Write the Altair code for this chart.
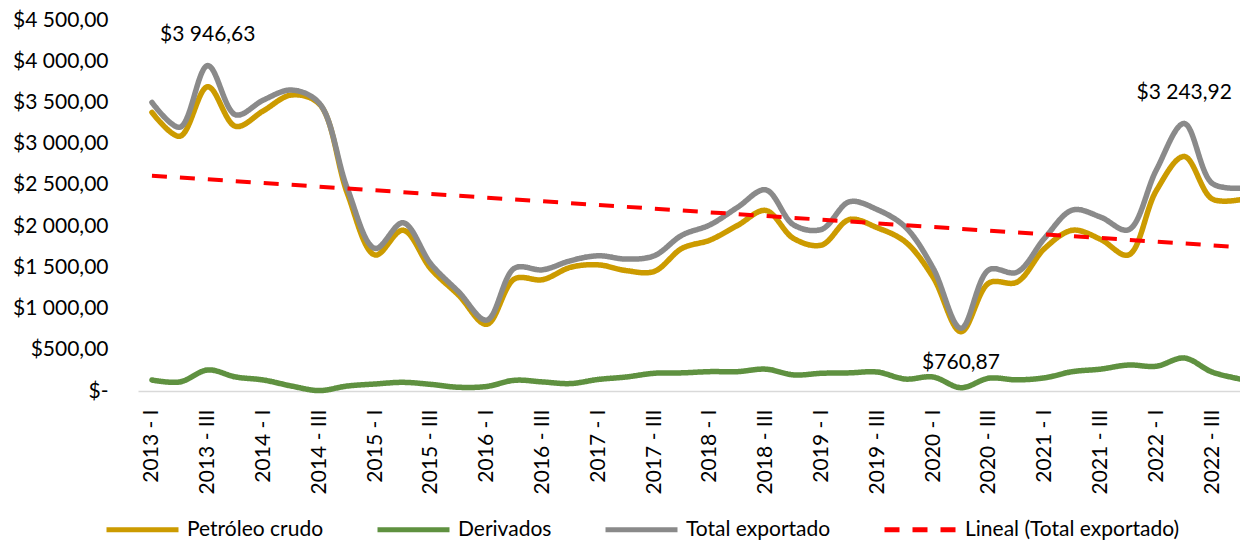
import altair as alt
import pandas as pd

quarters = [
    "2013 - I", "2013 - II", "2013 - III", "2013 - IV",
    "2014 - I", "2014 - II", "2014 - III", "2014 - IV",
    "2015 - I", "2015 - II", "2015 - III", "2015 - IV",
    "2016 - I", "2016 - II", "2016 - III", "2016 - IV",
    "2017 - I", "2017 - II", "2017 - III", "2017 - IV",
    "2018 - I", "2018 - II", "2018 - III", "2018 - IV",
    "2019 - I", "2019 - II", "2019 - III", "2019 - IV",
    "2020 - I", "2020 - II", "2020 - III", "2020 - IV",
    "2021 - I", "2021 - II", "2021 - III", "2021 - IV",
    "2022 - I", "2022 - II", "2022 - III", "2022 - IV",
]

petroleo = [3380, 3090, 3690, 3210, 3400, 3590, 3480, 2400, 1650, 1950,
            1480, 1160, 810, 1360, 1350, 1500, 1530, 1460, 1450, 1730,
            1830, 2010, 2190, 1850, 1770, 2080, 1980, 1810, 1380, 720,
            1310, 1320, 1730, 1950, 1840, 1650, 2430, 2844, 2330, 2320]

derivados = [133, 110, 255, 170, 133, 60, 5, 60, 85, 105,
             80, 45, 55, 130, 110, 90, 140, 170, 215, 220,
             235, 235, 265, 195, 215, 220, 230, 145, 170, 40,
             155, 135, 160, 235, 265, 315, 300, 400, 230, 145]

total = [3500, 3200, 3946.63, 3350, 3530, 3650, 3490, 2460, 1730, 2040,
         1540, 1200, 860, 1490, 1470, 1580, 1640, 1600, 1640, 1890,
         2015, 2230, 2440, 2015, 1960, 2295, 2200, 1990, 1490, 760.87,
         1470, 1440, 1855, 2195, 2110, 1955, 2680, 3243.92, 2520, 2460]

label_idx = [2, 37, 29]
label_text = ["$3 946,63", "$3 243,92", "$760,87"]

series_names = ["Petróleo crudo", "Derivados", "Total exportado", "Lineal (Total exportado)"]
series_colors = ["#CC9B00", "#5F9140", "#8A8A8A", "#FF0000"]
series_dash = [[1, 0], [1, 0], [1, 0], [15, 13]]

rows = []
for name, vals in zip(series_names[:3], [petroleo, derivados, total]):
    for i, v in enumerate(vals):
        rows.append({"idx": i, "serie": name, "valor": v})
df = pd.DataFrame(rows)

lab_df = pd.DataFrame({
    "idx": label_idx,
    "valor": [total[i] for i in label_idx],
    "texto": label_text,
})

quarter_js = "[" + ",".join("'" + q + "'" for q in quarters) + "]"

x_enc = alt.X(
    "idx:Q",
    scale=alt.Scale(domain=[-0.5, 39.0], nice=False, zero=False),
    axis=alt.Axis(
        values=list(range(0, 40, 2)),
        labelExpr=quarter_js + "[datum.value]",
        labelAngle=-90,
        labelFontSize=21,
        labelPadding=18,
        ticks=False,
        tickSize=0,
        grid=False,
        domain=True,
        domainColor="#D9D9D9",
        domainWidth=1.5,
        labelColor="#000000",
        labelOverlap=False,
    ),
    title=None,
)

y_enc = alt.Y(
    "valor:Q",
    scale=alt.Scale(domain=[0, 4500], nice=False, zero=True),
    axis=alt.Axis(
        values=list(range(0, 4501, 500)),
        labelExpr="datum.value == 0 ? '$-\u00a0\u00a0' : '$' + replace(replace(format(datum.value, ',.2f'), ',', ' '), '.', ',')",
        labelFontSize=21,
        labelPadding=30,
        ticks=False,
        tickSize=0,
        grid=False,
        domain=False,
        labelColor="#000000",
        labelOverlap=False,
    ),
    title=None,
)

color_enc = alt.Color("serie:N", scale=alt.Scale(domain=series_names, range=series_colors), title=None)
dash_enc = alt.StrokeDash("serie:N", scale=alt.Scale(domain=series_names, range=series_dash), title=None)

base = alt.Chart(df)

layers = []
for name in series_names[:3]:
    layers.append(
        base.transform_filter(alt.datum.serie == name)
        .mark_line(strokeWidth=5.5, interpolate="catmull-rom", strokeCap="round", strokeJoin="round")
        .encode(x=x_enc, y=y_enc, color=color_enc, strokeDash=dash_enc)
    )

trend = (
    base.transform_filter(alt.datum.serie == "Total exportado")
    .transform_regression("idx", "valor", method="linear", extent=[0, 39])
    .transform_calculate(serie="'Lineal (Total exportado)'")
    .mark_line(strokeWidth=4)
    .encode(x=x_enc, y=y_enc, color=color_enc, strokeDash=dash_enc)
)
layers.append(trend)

labels = alt.Chart(lab_df)
above = labels.transform_filter(alt.datum.idx != 29).mark_text(
    fontSize=21, color="#000000", dy=-31
).encode(x=x_enc, y=y_enc, text="texto:N")
below = labels.transform_filter(alt.datum.idx == 29).mark_text(
    fontSize=21, color="#000000", dy=35
).encode(x=x_enc, y=y_enc, text="texto:N")
layers.extend([above, below])

chart = (
    alt.layer(*layers)
    .properties(
        width=1102,
        height=371,
        autosize=alt.AutoSizeParams(type="none"),
        padding={"left": 130, "top": 12, "right": 0, "bottom": 150},
        background="white",
    )
    .configure(font="Lato")
    .configure_view(stroke=None)
    .configure_legend(
        orient="none",
        legendX=-34,
        legendY=471,
        direction="horizontal",
        columns=4,
        symbolType="stroke",
        symbolSize=5184,
        symbolStrokeWidth=5,
        labelFontSize=21,
        labelOffset=6,
        columnPadding=43,
        labelLimit=400,
        labelColor="#000000",
        padding=0,
    )
)

chart.save("out.html", embed_options={"renderer": "svg", "actions": False})
